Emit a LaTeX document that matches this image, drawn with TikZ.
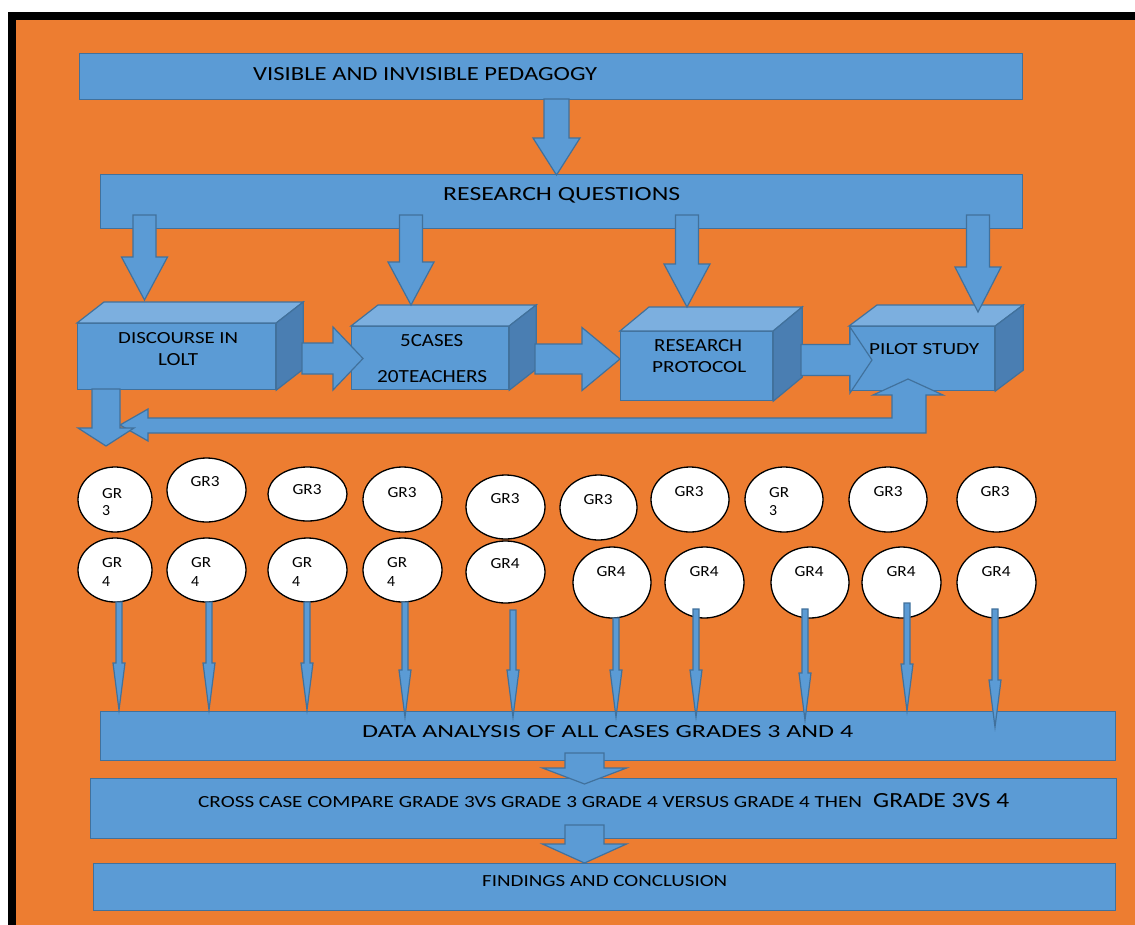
\documentclass[tikz,border=0pt]{standalone}
\usepackage{fontspec}
\setmainfont{Carlito}
\usepackage{graphicx}
\usetikzlibrary{calc,shapes.geometric}

\definecolor{bgorange}{HTML}{ED7D31}
\definecolor{blockfill}{HTML}{5B9BD5}
\definecolor{blockedge}{HTML}{41719C}
\definecolor{cubetop}{HTML}{7CAFDF}
\definecolor{cubeside}{HTML}{4A7EB2}

% text of a given width and cap height
\newcommand\fitxt[3]{\resizebox{#1pt}{#2pt}{#3}}

% downward block arrow: start, tip, shaft half width, head half width, head length
\newcommand\downblock[5]{%
  \filldraw[blk] let \p1=(#1), \p2=(#2) in
    (\x1-#3,\y1) -- (\x1+#3,\y1) -- (\x1+#3,\y2+#5) -- (\x1+#4,\y2+#5)
    -- (\x1,\y2) -- (\x1-#4,\y2+#5) -- (\x1-#3,\y2+#5) -- cycle;}

% rightward block arrow: start, tip, shaft half width, head half width, head length
\newcommand\rightblock[5]{%
  \filldraw[blk] let \p1=(#1), \p2=(#2) in
    (\x1,\y1+#3) -- (\x2-#5,\y1+#3) -- (\x2-#5,\y1+#4) -- (\x2,\y1)
    -- (\x2-#5,\y1-#4) -- (\x2-#5,\y1-#3) -- (\x1,\y1-#3) -- cycle;}

% 3D box: name, left, top, right, bottom, depth x, depth y
\newcommand\cubebox[7]{%
  \node[panel, minimum width={(#4-#2)*1pt}, minimum height={(#5-#3)*1pt}] (#1) at (#2,#3) {};
  \filldraw[blk, fill=cubetop] (#1.north west) -- ++(#6,-#7)
    -- ([shift={(#6,-#7)}]#1.north east) -- (#1.north east) -- cycle;
  \filldraw[blk, fill=cubeside] (#1.north east) -- ([shift={(#6,-#7)}]#1.north east)
    -- ([shift={(#6,-#7)}]#1.south east) -- (#1.south east) -- cycle;}

% grade ellipse: name, centre x, centre y, width, height
\newcommand\grade[5]{%
  \node[gradeell, minimum width=#4pt, minimum height=#5pt] (#1) at (#2,#3) {};}

\tikzset{
  blk/.style={fill=blockfill, draw=blockedge, line width=1.2pt, line join=miter},
  panel/.style={blk, rectangle, inner sep=0pt, anchor=north west},
  gradeell/.style={ellipse, draw=black, fill=white, line width=1.3pt, inner sep=0pt},
  lbl/.style={inner sep=0pt, text=black},
}

\begin{document}
\begin{tikzpicture}[x=1pt, y=-1pt]
\useasboundingbox (0,0) rectangle (1135,924);

% frame and background (run past the page edge on the right and bottom)
\fill[white] (0,0) rectangle (1135,924);
\fill[black] (8,12) rectangle (1145,934);
\fill[bgorange] (16,20) rectangle (1145,934);

% top panels
\node[panel, minimum width=943pt, minimum height=46pt] (vip) at (79,53) {};
\node[lbl, anchor=base west] (vipt) at (253,80) {\fitxt{344}{13}{VISIBLE AND INVISIBLE PEDAGOGY}};
\node[panel, minimum width=922pt, minimum height=54pt] (rq) at (100,174) {};
\node[lbl, anchor=base west] (rqt) at (443,200) {\fitxt{237}{13}{RESEARCH QUESTIONS}};

\coordinate (a0s) at (556.5,99);
\coordinate (a0e) at (556.5,175);
\downblock{a0s}{a0e}{12.5pt}{23.5pt}{37pt}

% the four boxes
\cubebox{disc}{77}{323}{275}{389}{27}{21}
\cubebox{cases}{351}{326}{508}{389}{27}{21}
\cubebox{proto}{620}{331}{772}{400}{29}{24}
\cubebox{pilot}{849}{326}{994}{390}{28}{21}

\node[lbl, anchor=base west] (disct1) at (118,343) {\fitxt{120}{11}{DISCOURSE IN}};
\node[lbl, anchor=base west] (disct2) at (158,365) {\fitxt{40}{12}{LOLT}};
\node[lbl, anchor=base west] (casest1) at (400,346) {\fitxt{63}{12}{5CASES}};
\node[lbl, anchor=base west] (casest2) at (377,382) {\fitxt{110}{12}{20TEACHERS}};
\node[lbl, anchor=base west] (protot1) at (654,351) {\fitxt{88}{12}{RESEARCH}};
\node[lbl, anchor=base west] (protot2) at (652,372) {\fitxt{94}{11}{PROTOCOL}};

% questions feed each box
\coordinate (q1s) at (144.5,215); \coordinate (q1e) at (144.5,300);
\coordinate (q2s) at (411,215);   \coordinate (q2e) at (411,305);
\coordinate (q3s) at (687,215);   \coordinate (q3e) at (687,307);
\coordinate (q4s) at (978,215);   \coordinate (q4e) at (978,312);
\downblock{q1s}{q1e}{11.5pt}{23pt}{43pt}
\downblock{q2s}{q2e}{11.5pt}{23pt}{43pt}
\downblock{q3s}{q3e}{11.5pt}{23pt}{43pt}
\downblock{q4s}{q4e}{11.5pt}{23pt}{45pt}

% chain of boxes
\coordinate (r1s) at (302,358.5); \coordinate (r1e) at (363,358.5);
\coordinate (r2s) at (535,359);   \coordinate (r2e) at (620,359);
\coordinate (r3s) at (801,360);   \coordinate (r3e) at (872,360);
\rightblock{r1s}{r1e}{15.5pt}{31.5pt}{30pt}
\rightblock{r2s}{r2e}{15pt}{31.5pt}{38pt}
\rightblock{r3s}{r3e}{15.5pt}{33pt}{22pt}

\node[lbl, anchor=base west] (pilott) at (869,354) {\fitxt{110}{11}{PILOT STUDY}};

% return loop from the pilot study
\filldraw[blk] (908,379) -- (943,395) -- (926,395) -- (926,433) -- (148,433)
  -- (148,441) -- (120,425) -- (148,409) -- (148,418) -- (892,418)
  -- (892,395) -- (873,395) -- cycle;

% down from the first box
\coordinate (d1s) at (106,389);
\coordinate (d1e) at (106,446);
\downblock{d1s}{d1e}{14pt}{28pt}{18pt}

% grade 3 row
\grade{g3a}{115}{499.5}{74}{65}
\grade{g3b}{206.5}{490}{79}{64}
\grade{g3c}{307.5}{494}{79}{54}
\grade{g3d}{402.5}{499.5}{79}{65}
\grade{g3e}{505.5}{507}{79}{64}
\grade{g3f}{598.5}{507.5}{77}{65}
\grade{g3g}{690}{499.5}{78}{65}
\grade{g3h}{784}{499.5}{78}{65}
\grade{g3i}{888}{499.5}{78}{65}
\grade{g3j}{996.5}{499.5}{79}{65}

\node[lbl, anchor=base west] (g3at1) at (102,498) {\fitxt{20}{10}{GR}};
\node[lbl, anchor=base west] (g3at2) at (102,515) {\fitxt{8}{10}{3}};
\node[lbl, anchor=base] (g3bt) at (205,486) {\fitxt{29}{10}{GR3}};
\node[lbl, anchor=base] (g3ct) at (307,494) {\fitxt{29}{10}{GR3}};
\node[lbl, anchor=base] (g3dt) at (402,497) {\fitxt{29}{10}{GR3}};
\node[lbl, anchor=base] (g3et) at (505,503) {\fitxt{29}{10}{GR3}};
\node[lbl, anchor=base] (g3ft) at (598,504) {\fitxt{29}{10}{GR3}};
\node[lbl, anchor=base] (g3gt) at (689,496) {\fitxt{29}{10}{GR3}};
\node[lbl, anchor=base west] (g3ht1) at (769,497) {\fitxt{20}{10}{GR}};
\node[lbl, anchor=base west] (g3ht2) at (769,515) {\fitxt{8}{10}{3}};
\node[lbl, anchor=base] (g3it) at (888,496) {\fitxt{29}{10}{GR3}};
\node[lbl, anchor=base] (g3jt) at (995,496) {\fitxt{29}{10}{GR3}};

% grade 4 row
\grade{g4a}{115}{570}{74}{64}
\grade{g4b}{206.5}{570}{79}{64}
\grade{g4c}{307.5}{570}{79}{64}
\grade{g4d}{402.5}{570}{79}{64}
\grade{g4e}{505.5}{572}{79}{62}
\grade{g4f}{612}{582.5}{78}{71}
\grade{g4g}{704.5}{582.5}{79}{71}
\grade{g4h}{810}{582.5}{78}{71}
\grade{g4i}{901.5}{582.5}{79}{71}
\grade{g4j}{996.5}{582.5}{79}{71}

\node[lbl, anchor=base west] (g4at1) at (102,567) {\fitxt{20}{10}{GR}};
\node[lbl, anchor=base west] (g4at2) at (102,586) {\fitxt{8}{10}{4}};
\node[lbl, anchor=base west] (g4bt1) at (191,567) {\fitxt{20}{10}{GR}};
\node[lbl, anchor=base west] (g4bt2) at (191,586) {\fitxt{8}{10}{4}};
\node[lbl, anchor=base west] (g4ct1) at (292,567) {\fitxt{20}{10}{GR}};
\node[lbl, anchor=base west] (g4ct2) at (292,586) {\fitxt{8}{10}{4}};
\node[lbl, anchor=base west] (g4dt1) at (387,567) {\fitxt{20}{10}{GR}};
\node[lbl, anchor=base west] (g4dt2) at (387,586) {\fitxt{8}{10}{4}};
\node[lbl, anchor=base] (g4et) at (505,568) {\fitxt{29}{10}{GR4}};
\node[lbl, anchor=base] (g4ft) at (611,576) {\fitxt{29}{10}{GR4}};
\node[lbl, anchor=base] (g4gt) at (704,576) {\fitxt{29}{10}{GR4}};
\node[lbl, anchor=base] (g4ht) at (809,576) {\fitxt{29}{10}{GR4}};
\node[lbl, anchor=base] (g4it) at (901,576) {\fitxt{29}{10}{GR4}};
\node[lbl, anchor=base] (g4jt) at (996,576) {\fitxt{29}{10}{GR4}};

% lower panels
\node[panel, minimum width=1015pt, minimum height=49pt] (data) at (100,711) {};
\node[lbl, anchor=base west] (datat) at (362,737) {\fitxt{491}{12}{DATA ANALYSIS OF ALL CASES GRADES 3 AND 4}};
\node[panel, minimum width=1026pt, minimum height=60pt] (cross) at (90,778) {};
\node[lbl, anchor=base west] (crosst1) at (198,807) {\fitxt{664}{11}{CROSS CASE COMPARE GRADE 3VS GRADE 3 GRADE 4 VERSUS GRADE 4 THEN}};
\node[lbl, anchor=base west] (crosst2) at (873,807) {\fitxt{136}{14}{GRADE 3VS 4}};
\node[panel, minimum width=1022pt, minimum height=47pt] (find) at (93,863) {};
\node[lbl, anchor=base west] (findt) at (482,886) {\fitxt{245}{11}{FINDINGS AND CONCLUSION}};

% every grade case feeds the analysis
\coordinate (s1) at (119,602);  \coordinate (e1) at (119,710);
\coordinate (s2) at (209,602);  \coordinate (e2) at (209,710);
\coordinate (s3) at (307,602);  \coordinate (e3) at (307,710);
\coordinate (s4) at (405,602);  \coordinate (e4) at (405,717);
\coordinate (s5) at (513,610);  \coordinate (e5) at (513,717);
\coordinate (s6) at (616,618);  \coordinate (e6) at (616,717);
\coordinate (s7) at (696,609);  \coordinate (e7) at (696,717);
\coordinate (s8) at (805,609);  \coordinate (e8) at (805,720);
\coordinate (s9) at (907,603);  \coordinate (e9) at (907,711);
\coordinate (s10) at (995,609); \coordinate (e10) at (995,727);
\foreach \k in {1,...,10}{\downblock{s\k}{e\k}{3pt}{6pt}{47pt}}

% analysis to comparison to findings
\coordinate (f1s) at (584.5,753); \coordinate (f1e) at (584.5,784);
\coordinate (f2s) at (584.5,825); \coordinate (f2e) at (584.5,863);
\downblock{f1s}{f1e}{19.5pt}{42pt}{16pt}
\downblock{f2s}{f2e}{19.5pt}{42pt}{19pt}
\end{tikzpicture}
\end{document}
